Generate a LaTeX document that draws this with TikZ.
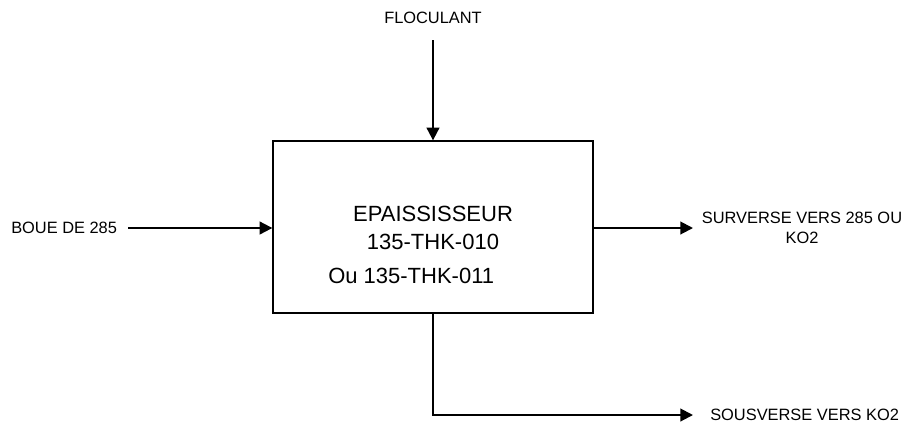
\documentclass[tikz,border=0pt]{standalone}
\usepackage{fontspec}
\setmainfont{Liberation Sans}
\usetikzlibrary{arrows.meta,positioning}
\definecolor{ink}{HTML}{000000}
\tikzset{
  unitbox/.style={draw=ink,line width=1pt,minimum width=240pt,
                  minimum height=129pt,inner sep=0pt},
  bigtext/.style={align=center,inner sep=0pt,
                  font=\fontsize{16.5}{21}\selectfont},
  flowlabel/.style={align=center,inner sep=0pt,
                    font=\fontsize{12.3}{14.5}\selectfont},
  flow/.style={-{Triangle[length=9.5pt,width=9.5pt]},line width=1.5pt,
               draw=ink}
}
\begin{document}
\begin{tikzpicture}[x=0.75pt,y=-0.75pt]
    \useasboundingbox (0,0) rectangle (907,426);
    \node[unitbox] (thk) at (433,227) {};
    \node[bigtext] (name) at (433,228) {EPAISSISSEUR\\135-THK-010};
    \node[bigtext,anchor=west] (alt) at (328,276) {Ou 135-THK-011};
    % inputs
    \node[flowlabel] (floc) at (433,18) {FLOCULANT};
    \node[flowlabel,anchor=west] (boue) at (11,228) {BOUE DE 285};
    \coordinate (flocin) at (433,40);
    \coordinate (bouein) at (128,228);
    \draw[flow] (flocin) -- (thk.north);
    \draw[flow] (bouein) -- (thk.west |- bouein);
    % outputs
    \coordinate (survout) at (693,228);
    \coordinate (sousout) at (693,415);
    \node[flowlabel] (surv) at (802,228) {SURVERSE VERS 285 OU\\KO2};
    \node[flowlabel,anchor=west] (sous) at (710,415) {SOUSVERSE VERS KO2};
    \draw[flow] (thk.east |- survout) -- (survout);
    \draw[flow] (thk.south) |- (sousout);
  \end{tikzpicture}
\end{document}
